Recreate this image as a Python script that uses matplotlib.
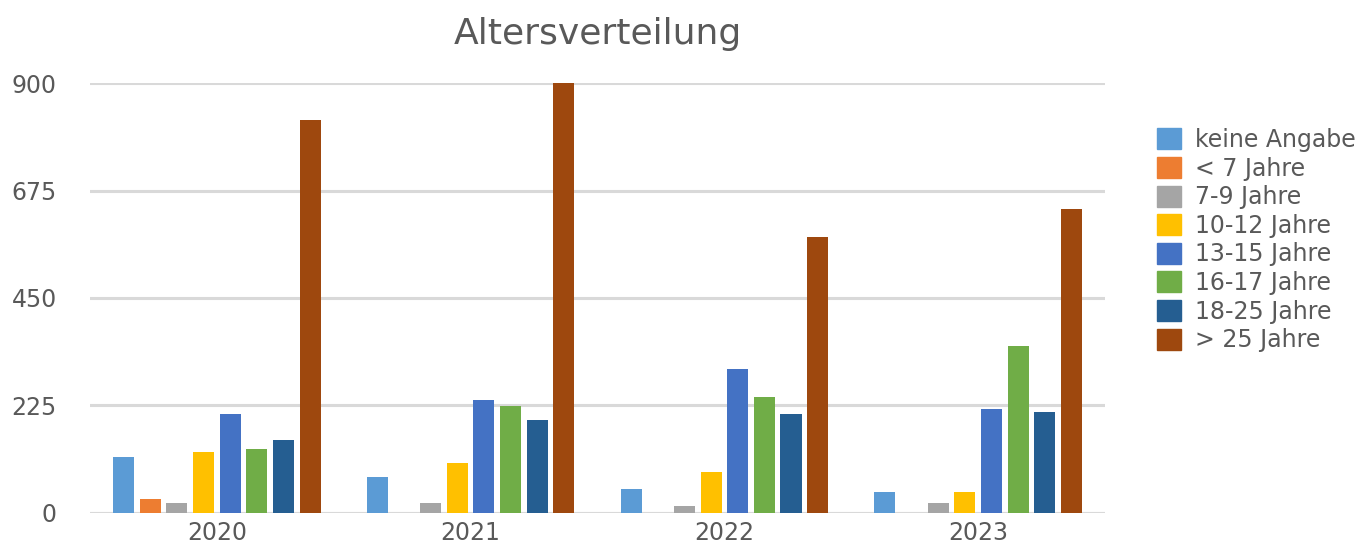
import numpy as np
import matplotlib.pyplot as plt
from matplotlib.patches import Patch

plt.rcParams['font.family'] = ['DejaVu Sans']

years = ["2020", "2021", "2022", "2023"]
groups = ["keine Angabe", "< 7 Jahre", "7-9 Jahre", "10-12 Jahre",
          "13-15 Jahre", "16-17 Jahre", "18-25 Jahre", "> 25 Jahre"]
keine_angabe = [117, 75, 50, 44]
unter_7 = [29, 0, 0, 0]
j7_9 = [21, 21, 15, 21]
j10_12 = [128, 105, 86, 44]
j13_15 = [207, 236, 301, 218]
j16_17 = [134, 224, 243, 350]
j18_25 = [153, 195, 207, 211]
ueber_25 = [822, 900, 578, 636]
colors = ["#5B9BD5", "#ED7D31", "#A5A5A5", "#FFC000",
          "#4472C4", "#70AD47", "#255E91", "#9E480E"]
series = [keine_angabe, unter_7, j7_9, j10_12, j13_15, j16_17, j18_25, ueber_25]

text_color = "#595959"

fig = plt.figure(figsize=(13.7, 5.49), dpi=100)
ax = fig.add_axes([0.0657, 0.0656, 0.7409, 0.7832])

x = np.arange(len(years))
pitch = 0.105
width = 0.083
for i, (vals, col) in enumerate(zip(series, colors)):
    ax.bar(x + (i - 3.5) * pitch, vals, width, color=col, zorder=3)

ax.set_xlim(-0.5, 3.5)
ax.set_ylim(0, 900)
ax.set_yticks([0, 225, 450, 675, 900])
ax.set_xticks(x)
ax.set_xticklabels(years)
ax.tick_params(axis="both", length=0, labelsize=17, colors=text_color)
ax.tick_params(axis="y", pad=24)
ax.tick_params(axis="x", pad=6)
ax.grid(axis="y", color="#d9d9d9", linewidth=2.2, zorder=0)
for s in ax.spines.values():
    s.set_visible(False)
ax.axhline(0, color="#d9d9d9", linewidth=2.2, zorder=2)

ax.set_title("Altersverteilung", fontsize=26, color=text_color, pad=28)

handles = [Patch(color=c) for c in colors]
fig.legend(handles, groups, loc="upper left", bbox_to_anchor=(0.8325, 0.797),
           frameon=False, fontsize=17, labelcolor=text_color,
           handlelength=1.0, handleheight=1.0, handletextpad=0.6,
           labelspacing=0.195, borderpad=0.2)

fig.savefig("out.png", dpi=100)
